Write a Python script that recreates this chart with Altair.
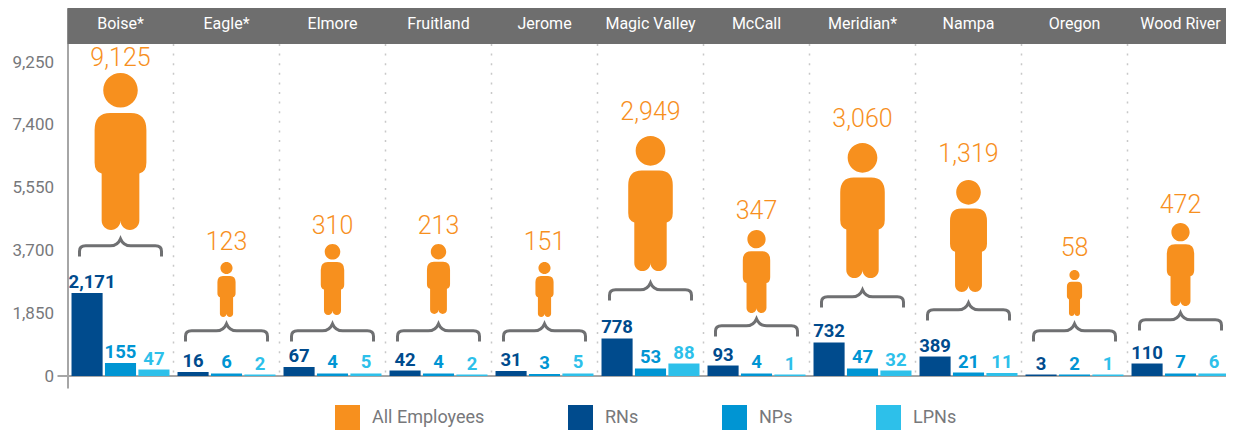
import altair as alt
import pandas as pd

sites = ["Boise*", "Eagle*", "Elmore", "Fruitland", "Jerome", "Magic Valley", "McCall", "Meridian*", "Nampa", "Oregon", "Wood River"]
employees = [9125, 123, 310, 213, 151, 2949, 347, 3060, 1319, 58, 472]
rns = [2171, 16, 67, 42, 31, 778, 93, 732, 389, 3, 110]
nps = [155, 6, 4, 4, 3, 53, 4, 47, 21, 2, 7]
lpns = [47, 2, 5, 2, 5, 88, 1, 32, 11, 1, 6]

# The drawn bars do not follow the printed numbers: heights as read against the left axis
rn_drawn = [2445, 118, 265, 162, 147, 1105, 309, 987, 574, 44, 368]
np_drawn = [383, 74, 74, 74, 59, 221, 74, 221, 103, 44, 74]
lpn_drawn = [191, 44, 74, 44, 74, 368, 44, 162, 88, 44, 74]

# Where the figures, braces and big numbers stand, as read against the left axis
feet = [4301, 1738, 1797, 1827, 1738, 3093, 1856, 2887, 2475, 1768, 2062]
brace = [4065, 1561, 1561, 1561, 1561, 2769, 1709, 2563, 2180, 1561, 1885]
big_label = [9368, 3948, 4419, 4419, 3948, 7777, 4861, 7571, 6540, 3771, 5038]

y_ticks = [0, 1850, 3700, 5550, 7400, 9250]
series_names = ["All Employees", "RNs", "NPs", "LPNs"]
series_colors = ["#f7901e", "#004b8d", "#0095d3", "#2dc0ea"]

# figure heights (px) per employee count, fed to the size scale
size_domain = [58, 123, 151, 213, 310, 347, 472, 1319, 2949, 3060, 9125]
figure_heights = [46, 55, 55, 70, 71, 83, 83, 112, 135, 135, 157]

FONT = "Roboto"
GRAY = "#77787b"
W, H = 1158.5, 380
BANDS = 1166

PERSON = ("M -0.22 -1.78 A 0.22 0.22 0 1 1 0.22 -1.78 A 0.22 0.22 0 1 1 -0.22 -1.78 Z "
          "M -0.13 -1.49 L 0.13 -1.49 Q 0.33 -1.49 0.33 -1.27 L 0.33 -0.86 Q 0.33 -0.74 0.24 -0.72 "
          "L 0.24 -0.12 A 0.12 0.12 0 0 1 0 -0.12 A 0.12 0.12 0 0 1 -0.24 -0.12 L -0.24 -0.72 "
          "Q -0.33 -0.74 -0.33 -0.86 L -0.33 -1.27 Q -0.33 -1.49 -0.13 -1.49 Z")
BRACE = ("M -1 0.45 L -1 0.32 C -1 0.22 -0.95 0.19 -0.85 0.19 L -0.25 0.19 C -0.12 0.19 -0.05 0.14 0 0.02 "
         "C 0.05 0.14 0.12 0.19 0.25 0.19 L 0.85 0.19 C 0.95 0.19 1 0.22 1 0.32 L 1 0.45")

sites_df = pd.DataFrame({"site": sites, "employees": employees, "feet": feet,
                         "brace": brace, "big_label": big_label})
bars_df = pd.concat([
    pd.DataFrame({"site": sites, "series": name, "count": printed, "drawn": drawn})
    for name, printed, drawn in [("RNs", rns, rn_drawn), ("NPs", nps, np_drawn), ("LPNs", lpns, lpn_drawn)]
])

x_scale = alt.Scale(domain=sites, range=[0, BANDS], paddingInner=0, paddingOuter=0)
x = alt.X("site:N", scale=x_scale, axis=None, title=None)
y_scale = alt.Scale(domain=[-353.5, 10841], nice=False, zero=False)
x_offset = alt.XOffset("series:N", scale=alt.Scale(domain=series_names[1:], paddingInner=0.07, paddingOuter=0.12))
color_scale = alt.Scale(domain=series_names, range=series_colors)
color = alt.Color("series:N", scale=color_scale, legend=alt.Legend(
    orient="none", legendX=267.5, legendY=397, direction="horizontal", columns=4, title=None,
    symbolType="square", symbolSize=625, symbolStrokeWidth=0, symbolOpacity=1, columnPadding=83,
    labelFont=FONT, labelFontSize=18, labelColor=GRAY, labelOffset=12))

y_axis = alt.Axis(
    values=y_ticks, labelExpr="format(datum.value, ',')", ticks=False, grid=False, labelFont=FONT, labelFontSize=17,
    labelColor=GRAY, labelPadding=14, domainColor="#a6a6a6", domainWidth=2, labelOverlap=False)

dots = alt.Chart(sites_df.iloc[1:]).mark_rule(color="#c8c8c8", strokeWidth=1.5, strokeDash=[2, 7.6]).encode(
    x=alt.X("site:N", scale=x_scale, axis=None, title=None, bandPosition=0),
    y=alt.value(36), y2=alt.value(368))
zero_line = alt.Chart(sites_df.head(1)).mark_rule(color="#a6a6a6", strokeWidth=2).encode(
    x=alt.value(-10), x2=alt.value(W), y=alt.Y(datum=0, scale=y_scale, axis=y_axis, title=None))
header = alt.Chart(sites_df.head(1)).mark_rect(color="#6e6e6e").encode(
    x=alt.value(0), x2=alt.value(W), y=alt.value(0), y2=alt.value(36))
header_text = alt.Chart(sites_df).mark_text(color="white", font=FONT, fontSize=16, baseline="middle").encode(
    x=x, y=alt.value(16), text="site:N")
people = alt.Chart(sites_df).mark_point(shape=PERSON, filled=True, fill="#f7901e", strokeWidth=0, opacity=1).encode(
    x=x, y=alt.Y("feet:Q", scale=y_scale, title=None),
    size=alt.Size("employees:Q", legend=None, scale=alt.Scale(domain=size_domain, range=[h * h for h in figure_heights])))
braces = alt.Chart(sites_df).mark_point(shape=BRACE, filled=False, stroke="#6f7072", strokeWidth=3, opacity=1, size=6724).encode(
    x=x, y=alt.Y("brace:Q", scale=y_scale, title=None))
big = alt.Chart(sites_df).mark_text(color="#f7901e", font=FONT, fontWeight=300, fontSize=25, baseline="middle").encode(
    x=x, y=alt.Y("big_label:Q", scale=y_scale, title=None), text=alt.Text("employees:Q", format=","))
bars = alt.Chart(bars_df).mark_bar(opacity=1).encode(
    x=x, xOffset=x_offset, y=alt.Y("drawn:Q", scale=y_scale, title=None), y2=alt.Y2(datum=0), color=color)

def bar_labels(test, dx):
    return alt.Chart(bars_df).transform_filter(test).mark_text(
        font=FONT, fontWeight="bold", fontSize=18.5, baseline="bottom", dy=-1, dx=dx
    ).encode(
        x=x, xOffset=x_offset, y=alt.Y("drawn:Q", scale=y_scale, title=None),
        text=alt.Text("count:Q", format=","), color=alt.Color("series:N", scale=color_scale, legend=None))

bar_text = bar_labels("datum.count < 1000", 0)
wide_text = bar_labels("datum.count >= 1000", 5)

chart = alt.layer(zero_line, dots, header, header_text, bars, bar_text, wide_text, people, braces, big).properties(
    width=W, height=H,
    autosize=alt.AutoSizeParams(type="none"),
    padding={"left": 59.5, "top": 0, "right": 0, "bottom": 42},
).configure_view(stroke=None)

chart.save("out.html", embed_options={"renderer": "svg", "actions": False})
